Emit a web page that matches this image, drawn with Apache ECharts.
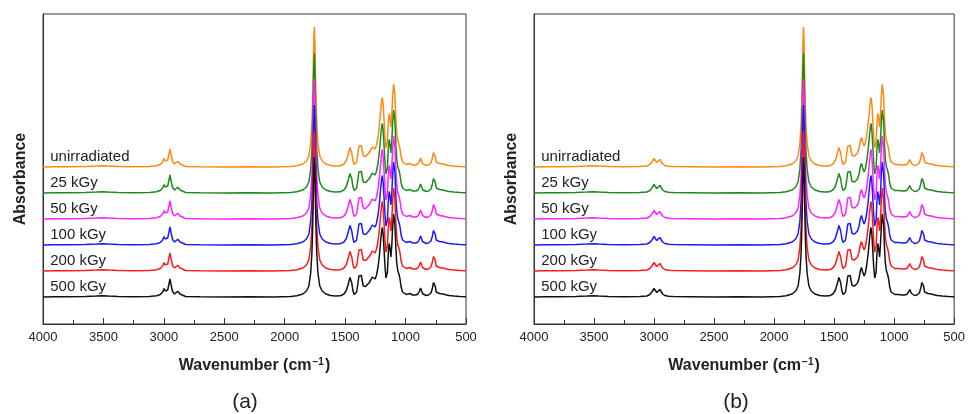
<!DOCTYPE html>
<html>
<head>
<meta charset="utf-8">
<title>FTIR spectra</title>
<script src="https://cdn.jsdelivr.net/npm/echarts@6/dist/echarts.min.js"></script>
<style>
  html, body { margin: 0; padding: 0; background: #fff; }
  #chart { width: 968px; height: 414px; }
</style>
</head>
<body>
<div id="chart"></div>
<script>
// Sample names, colours and the vertical offset of each stacked trace (a.u.)
const samples = ['unirradiated', '25 kGy', '50 kGy', '100 kGy', '200 kGy', '500 kGy'];
const colors = ['#ff8a12', '#1b8a1b', '#ff22ff', '#1a1aff', '#ff1a1a', '#111111'];
const offsets = [1.57, 1.31, 1.05, 0.79, 0.53, 0.27];

// Wavenumber axis ticks (cm-1)
const xTicks = [4000, 3500, 3000, 2500, 2000, 1500, 1000, 500];

// Panel (a): wavenumber (cm-1) and absorbance above baseline (a.u.)
const wnA = [4000, 3900, 3800, 3650, 3560, 3510, 3460, 3380, 3250, 3120, 3060, 3030, 3010, 2998, 2988, 2978, 2968, 2958, 2949, 2940,
  2928, 2912, 2898, 2885, 2876, 2866, 2850, 2820, 2700, 2500, 2300, 2100, 1950, 1900, 1850, 1820, 1800, 1785, 1775, 1770,
  1765, 1760, 1755, 1750, 1745, 1740, 1735, 1725, 1710, 1690, 1660, 1620, 1580, 1540, 1510, 1490, 1472, 1460, 1453, 1445,
  1435, 1425, 1415, 1405, 1395, 1386, 1378, 1372, 1366, 1358, 1350, 1342, 1330, 1315, 1300, 1288, 1276, 1265, 1252, 1240,
  1228, 1216, 1205, 1197, 1192, 1185, 1177, 1170, 1162, 1156, 1150, 1144, 1136, 1128, 1121, 1114, 1106, 1099, 1094, 1088,
  1080, 1073, 1064, 1054, 1046, 1037, 1025, 1010, 995, 980, 965, 955, 940, 915, 898, 885, 876, 868, 860, 848,
  830, 810, 790, 778, 769, 762, 755, 746, 735, 720, 705, 690, 670, 640, 600, 550, 500];
const absA = [0, 0.002, 0.003, 0.005, 0.009, 0.013, 0.009, 0.004, 0.003, 0.005, 0.012, 0.025, 0.05, 0.085, 0.06, 0.045, 0.07, 0.13, 0.18, 0.12,
  0.055, 0.03, 0.035, 0.058, 0.055, 0.03, 0.012, 0.005, 0.002, 0, 0.002, 0, 0.005, 0.012, 0.03, 0.06, 0.11, 0.24, 0.44, 0.63,
  0.90, 1.24, 1.40, 1.24, 0.90, 0.63, 0.44, 0.24, 0.11, 0.06, 0.03, 0.015, 0.01, 0.012, 0.03, 0.065, 0.14, 0.195, 0.205, 0.14,
  0.06, 0.025, 0.02, 0.05, 0.13, 0.21, 0.195, 0.20, 0.215, 0.16, 0.11, 0.09, 0.105, 0.125, 0.145, 0.17, 0.20, 0.19, 0.18, 0.22,
  0.30, 0.42, 0.58, 0.67, 0.695, 0.62, 0.45, 0.30, 0.19, 0.18, 0.25, 0.42, 0.535, 0.48, 0.40, 0.52, 0.72, 0.83, 0.845, 0.72,
  0.48, 0.34, 0.26, 0.225, 0.18, 0.10, 0.05, 0.03, 0.025, 0.025, 0.035, 0.03, 0.02, 0.02, 0.03, 0.06, 0.09, 0.07, 0.035, 0.02,
  0.015, 0.02, 0.04, 0.09, 0.145, 0.155, 0.11, 0.05, 0.038, 0.035, 0.033, 0.03, 0.022, 0.015, 0.01, 0.006, 0.003];

// Panel (b): wavenumber (cm-1) and absorbance above baseline (a.u.)
const wnB = [4000, 3900, 3800, 3650, 3560, 3510, 3460, 3380, 3250, 3120, 3060, 3035, 3015, 3000, 2990, 2978, 2965, 2952, 2942, 2928,
  2910, 2880, 2840, 2700, 2500, 2300, 2100, 1950, 1900, 1850, 1820, 1800, 1785, 1775, 1770, 1765, 1760, 1755, 1750, 1745,
  1740, 1735, 1725, 1710, 1690, 1660, 1620, 1580, 1540, 1510, 1490, 1472, 1460, 1453, 1445, 1435, 1425, 1415, 1405, 1395,
  1386, 1378, 1372, 1366, 1358, 1350, 1342, 1330, 1318, 1305, 1292, 1282, 1272, 1262, 1250, 1240, 1228, 1216, 1205, 1197,
  1192, 1185, 1177, 1170, 1162, 1156, 1150, 1144, 1136, 1128, 1121, 1114, 1106, 1099, 1094, 1088, 1080, 1073, 1064, 1054,
  1046, 1037, 1025, 1010, 995, 980, 962, 950, 935, 915, 895, 880, 870, 862, 855, 845, 830, 810, 790, 778, 769,
  762, 755, 746, 735, 720, 705, 690, 670, 640, 600, 550, 500];
const absB = [0, 0.002, 0.003, 0.005, 0.009, 0.013, 0.009, 0.004, 0.003, 0.004, 0.01, 0.025, 0.055, 0.085, 0.075, 0.045, 0.06, 0.075, 0.06, 0.03,
  0.015, 0.008, 0.005, 0.003, 0, 0.002, 0, 0.005, 0.012, 0.03, 0.06, 0.11, 0.24, 0.44, 0.63, 0.90, 1.24, 1.40, 1.24, 0.90,
  0.63, 0.44, 0.24, 0.11, 0.06, 0.03, 0.015, 0.01, 0.012, 0.03, 0.065, 0.14, 0.195, 0.205, 0.14, 0.06, 0.025, 0.02, 0.05, 0.13,
  0.21, 0.195, 0.20, 0.215, 0.16, 0.115, 0.095, 0.11, 0.12, 0.14, 0.19, 0.26, 0.295, 0.25, 0.21, 0.24, 0.32, 0.44, 0.58, 0.67,
  0.695, 0.62, 0.45, 0.30, 0.19, 0.18, 0.25, 0.42, 0.535, 0.48, 0.40, 0.52, 0.72, 0.83, 0.845, 0.72, 0.48, 0.34, 0.26, 0.225,
  0.18, 0.10, 0.05, 0.03, 0.025, 0.022, 0.025, 0.028, 0.02, 0.02, 0.025, 0.05, 0.075, 0.06, 0.035, 0.02, 0.015, 0.02, 0.04, 0.09, 0.145,
  0.155, 0.11, 0.05, 0.038, 0.035, 0.033, 0.03, 0.022, 0.015, 0.01, 0.006, 0.003];

const FONT = '"Liberation Sans", Arial, sans-serif';
const TEXT = '#222';

function traces(wn, ab, offset) {
  return wn.map((w, i) => [w, +(ab[i] + offset).toFixed(4)]);
}

function makeSeries(panel, wn, ab) {
  return samples.map((name, k) => ({
    name: name + ' ' + panel,
    type: 'line',
    xAxisIndex: panel,
    yAxisIndex: panel,
    data: traces(wn, ab, offsets[k]),
    showSymbol: false,
    symbol: 'none',
    smooth: false,
    lineStyle: { color: colors[k], width: 1.5 },
    itemStyle: { color: colors[k] },
    silent: true,
    markPoint: {
      silent: true,
      symbol: 'circle',
      symbolSize: 0,
      data: [{ coord: [3940, offsets[k] + 0.10] }],
      label: {
        show: true,
        position: 'right',
        distance: 0,
        formatter: name,
        color: TEXT,
        fontSize: 15,
        fontFamily: FONT
      }
    }
  }));
}

function xAxisOf(grid) {
  return {
    type: 'value',
    gridIndex: grid,
    min: xTicks[xTicks.length - 1],
    max: xTicks[0],
    interval: xTicks[0] - xTicks[1],
    inverse: true,
    name: '{t|Wavenumber (cm}{s|\u22121}{t|)}',
    nameLocation: 'middle',
    nameGap: 33,
    nameTextStyle: {
      rich: {
        t: { fontSize: 16, fontWeight: 'bold', fontFamily: FONT, color: TEXT, lineHeight: 18 },
        s: { fontSize: 10, fontWeight: 'bold', fontFamily: FONT, color: TEXT, lineHeight: 18, verticalAlign: 'top', padding: [0, 1, 8, 1] }
      }
    },
    axisLine: { show: true, lineStyle: { color: '#333', width: 1 } },
    axisTick: { show: true, inside: true, length: 6, lineStyle: { color: '#333', width: 1 } },
    minorTick: { show: true, splitNumber: 2, length: 4, lineStyle: { color: '#333', width: 1 } },
    axisLabel: { show: true, margin: 7, fontSize: 13, fontFamily: FONT, color: TEXT, formatter: v => String(v) },
    splitLine: { show: false },
    minorSplitLine: { show: false }
  };
}

function yAxisOf(grid) {
  return {
    type: 'value',
    gridIndex: grid,
    min: 0,
    max: 3.1,
    axisLine: { show: true, lineStyle: { color: '#333', width: 1 } },
    axisTick: { show: false },
    axisLabel: { show: false },
    splitLine: { show: false }
  };
}

const chart = echarts.init(document.getElementById('chart'), null, { renderer: 'canvas' });
chart.setOption({
  animation: false,
  backgroundColor: '#fff',
  grid: [
    { left: 43, top: 14, width: 423, height: 310, show: true, borderColor: '#333', borderWidth: 1 },
    { left: 534, top: 14, width: 422, height: 310, show: true, borderColor: '#333', borderWidth: 1 }
  ],
  xAxis: [xAxisOf(0), xAxisOf(1)],
  yAxis: [yAxisOf(0), yAxisOf(1)],
  series: makeSeries(0, wnA, absA).concat(makeSeries(1, wnB, absB)),
  graphic: [
    { type: 'text', x: 21, y: 179, rotation: Math.PI / 2, style: { text: 'Absorbance', fontSize: 16, fontWeight: 'bold', fontFamily: FONT, fill: TEXT, textAlign: 'center', textVerticalAlign: 'middle' } },
    { type: 'text', x: 512, y: 179, rotation: Math.PI / 2, style: { text: 'Absorbance', fontSize: 16, fontWeight: 'bold', fontFamily: FONT, fill: TEXT, textAlign: 'center', textVerticalAlign: 'middle' } },
    { type: 'text', x: 245, y: 402, style: { text: '(a)', fontSize: 21, fontFamily: FONT, fill: TEXT, textAlign: 'center', textVerticalAlign: 'middle' } },
    { type: 'text', x: 736, y: 402, style: { text: '(b)', fontSize: 21, fontFamily: FONT, fill: TEXT, textAlign: 'center', textVerticalAlign: 'middle' } }
  ]
});
</script>
</body>
</html>
